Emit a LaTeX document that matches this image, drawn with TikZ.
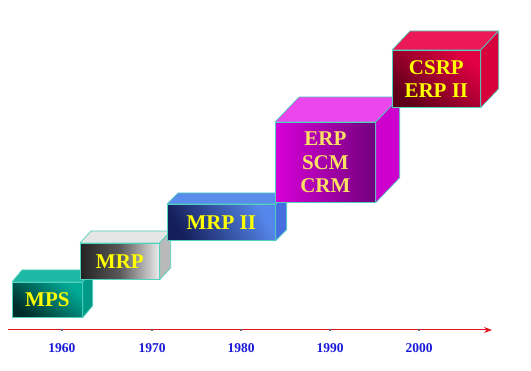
\documentclass[tikz,border=0pt]{standalone}
\usepackage{fontspec}
\setmainfont{Liberation Serif}
\usetikzlibrary{calc,arrows.meta}
\definecolor{edgec}{RGB}{80,210,190}
\definecolor{mpsDark}{RGB}{0,45,40}
\definecolor{mpsLight}{RGB}{0,170,150}
\definecolor{mpsTop}{RGB}{30,185,165}
\definecolor{mpsRight}{RGB}{0,155,135}
\definecolor{mrpDark}{RGB}{35,35,35}
\definecolor{mrpLight}{RGB}{235,235,235}
\definecolor{mrpTop}{RGB}{230,230,230}
\definecolor{mrpRight}{RGB}{185,185,185}
\definecolor{mtDark}{RGB}{20,30,90}
\definecolor{mtLight}{RGB}{85,135,235}
\definecolor{mtTop}{RGB}{90,140,235}
\definecolor{mtRight}{RGB}{70,110,225}
\definecolor{erpLight}{RGB}{215,0,215}
\definecolor{erpDark}{RGB}{115,0,125}
\definecolor{erpTop}{RGB}{235,70,235}
\definecolor{erpRight}{RGB}{205,0,205}
\definecolor{csDark}{RGB}{95,0,25}
\definecolor{csLight}{RGB}{225,0,65}
\definecolor{csTop}{RGB}{235,25,85}
\definecolor{csRight}{RGB}{215,0,60}
\definecolor{labyellow}{RGB}{255,255,0}
\definecolor{labpale}{RGB}{250,225,100}
\definecolor{yearblue}{RGB}{25,25,215}
\definecolor{axisred}{RGB}{225,20,30}
\tikzset{
  face/.style={draw=edgec, line width=0.7pt, line join=round},
  frontface/.style 2 args={face, anchor=north west, inner sep=0pt,
    minimum width=#1, minimum height=#2, align=center,
    font=\bfseries\fontsize{21}{23.5}\selectfont},
  yearlab/.style={text=yearblue, font=\bfseries\fontsize{13.5}{15}\selectfont},
  tickmark/.style={draw=black!60, line width=1.2pt}
}
\newcommand\cubesides[5]{%
  \filldraw[face, fill=#4] (#1.north west) -- ++(#2,#3) -- ($(#1.north east)+(#2,#3)$) -- (#1.north east) -- cycle;
  \filldraw[face, fill=#5] (#1.north east) -- ++(#2,#3) -- ($(#1.south east)+(#2,#3)$) -- (#1.south east) -- cycle;
}
\begin{document}
\begin{tikzpicture}[x=1pt,y=-1pt]
\useasboundingbox (0,0) rectangle (531,371);
% MPS
\node[frontface={70pt}{35pt}, bottom color=mpsDark, top color=mpsLight, shading angle=-40, text=labyellow] (mps) at (12,282) {MPS};
\cubesides{mps}{10}{-12}{mpsTop}{mpsRight}
% MRP
\node[frontface={79pt}{36pt}, left color=mrpDark, right color=mrpLight, middle color=gray!70!black, text=labyellow] (mrp) at (80,243) {MRP};
\cubesides{mrp}{11}{-12}{mrpTop}{mrpRight}
% MRP II
\node[frontface={108pt}{36pt}, bottom color=mtDark, top color=mtLight, shading angle=-60, text=labyellow] (mrpii) at (167,204) {MRP II};
\cubesides{mrpii}{11}{-11}{mtTop}{mtRight}
% ERP
\node[frontface={100pt}{80pt}, left color=erpLight, right color=erpDark, text=labpale] (erp) at (275,122) {ERP\\SCM\\CRM};
\cubesides{erp}{24}{-25}{erpTop}{erpRight}
% CSRP
\node[frontface={88pt}{57pt}, bottom color=csDark, top color=csLight, shading angle=-40, text=labyellow] (csrp) at (392,50) {CSRP\\ERP II};
\cubesides{csrp}{18}{-19}{csTop}{csRight}
% axis
\coordinate (a0) at (8,330);
\coordinate (a1) at (492,330);
\draw[axisred, line width=1pt, -{Stealth[length=8pt,width=6pt]}] (a0) -- (a1);
\foreach \x/\yr in {62/1960,152/1970,241/1980,330/1990,419/2000}{
  \draw[tickmark] (\x-1,330) -- (\x+1,330);
  \node[yearlab] (y\yr) at (\x,348) {\yr};
}
\end{tikzpicture}
\end{document}
